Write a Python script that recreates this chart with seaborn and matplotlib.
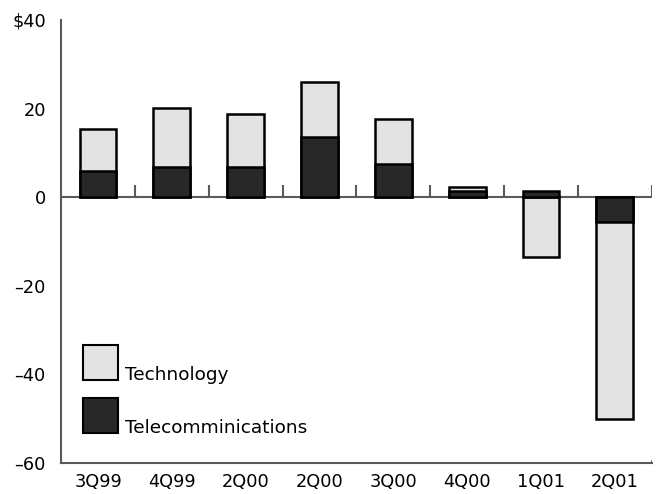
import numpy as np
import seaborn as sns
import matplotlib.pyplot as plt
from matplotlib.patches import Rectangle

quarters = ["3Q99", "4Q99", "2Q00", "2Q00", "3Q00", "4Q00", "1Q01", "2Q01"]
telecom = [5.9, 6.8, 6.8, 13.6, 7.5, 1.4, 1.4, -5.6]
technology = [9.4, 13.4, 11.9, 12.4, 10.1, 0.8, -13.6, -44.4]
yticks = [-60, -40, -20, 0, 20, 40]
ytick_labels = ["\u201360", "\u201340", "\u201320", "0", "20", "$40"]

light = "#e3e3e3"
dark = "#282828"
axis_gray = "#5a5a5a"


def plot_stacked(quarters, telecom, technology, save="out.png"):
    fig = plt.figure(figsize=(6.57, 4.94), dpi=100)
    ax = fig.add_axes([0.093, 0.0628, 0.899, 0.8968])

    tel = np.array(telecom)
    tech = np.array(technology)
    # tech sits on top of telecom when both go the same way, else starts at 0
    same = np.sign(tel) == np.sign(tech)
    outer = np.where(same, tel + tech, tech)
    pos = np.arange(len(quarters))

    ax.axhline(0, color=axis_gray, lw=1.5, zorder=0)
    ax.vlines(pos + 0.5, 0, 2.7, color=axis_gray, lw=1.5, zorder=0)

    sns.barplot(x=pos, y=outer, color=light, saturation=1, width=0.5,
                edgecolor="black", linewidth=1.8, errorbar=None, ax=ax)
    sns.barplot(x=pos, y=tel, color=dark, saturation=1, width=0.5,
                edgecolor="black", linewidth=1.8, errorbar=None, ax=ax)

    ax.set_xlim(-0.5, len(quarters) - 0.5)
    ax.set_ylim(-60, 40)
    ax.set_yticks(yticks)
    ax.set_yticklabels(ytick_labels, fontsize=12.8, color="black")
    ax.set_xticks(pos)
    ax.set_xticklabels(quarters, fontsize=12.8, color="black")
    ax.tick_params(axis="x", length=0, pad=7)
    ax.tick_params(axis="y", length=9, width=1.2, color=axis_gray, pad=2)
    ax.set_xlabel("")
    ax.set_ylabel("")

    for s in ["top", "right"]:
        ax.spines[s].set_visible(False)
    for s in ["left", "bottom"]:
        ax.spines[s].set_color(axis_gray)
        ax.spines[s].set_linewidth(1.5)
    ax.vlines([len(quarters) - 0.5], -60, -59.3, color=axis_gray, lw=1.2)

    # legend drawn by hand: text sits at the bottom of each swatch
    for yb, col, lab in [(0.187, light, "Technology"), (0.0677, dark, "Telecomminications")]:
        ax.add_patch(Rectangle((0.037, yb), 0.059, 0.079, transform=ax.transAxes,
                               facecolor=col, edgecolor="black", lw=1.5, clip_on=False))
        ax.text(0.108, yb, lab, transform=ax.transAxes, fontsize=13.3,
                color="black", ha="left", va="baseline")

    fig.savefig(save, dpi=100)


if __name__ == "__main__":
    sns.set_style("white")
    plt.rcParams["font.family"] = ["DejaVu Sans"]
    plot_stacked(quarters, telecom, technology)
